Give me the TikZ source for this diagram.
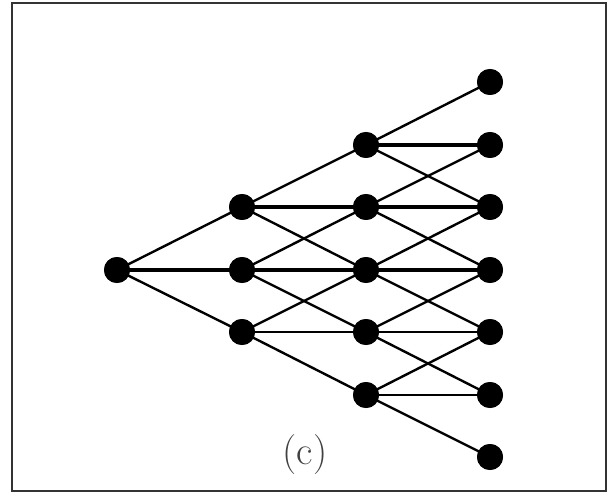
\documentclass[tikz,border=0pt]{standalone}
\begin{document}
\begin{tikzpicture}[x=1pt,y=-1pt,
  dot/.style={circle,fill=black,inner sep=0pt,minimum size=26pt},
  edge/.style={line width=2.4pt},
  hedge/.style={line width=3.6pt}]
\useasboundingbox (0,0) rectangle (613,497);
\draw[line width=2pt,black!80] (12,3) rectangle (606,491);
% nodes
\node[dot] (a0) at (117,270) {};
\node[dot] (b1) at (242,207) {};
\node[dot] (b0) at (242,270) {};
\node[dot] (bm1) at (242,332) {};
\node[dot] (c2) at (366,145) {};
\node[dot] (c1) at (366,207) {};
\node[dot] (c0) at (366,270) {};
\node[dot] (cm1) at (366,332) {};
\node[dot] (cm2) at (366,395) {};
\node[dot] (d3) at (490,82) {};
\node[dot] (d2) at (490,145) {};
\node[dot] (d1) at (490,207) {};
\node[dot] (d0) at (490,270) {};
\node[dot] (dm1) at (490,332) {};
\node[dot] (dm2) at (490,395) {};
\node[dot] (dm3) at (490,457) {};
% edges
\draw[edge] (a0.center) -- (b1.center);
\draw[hedge] (a0.center) -- (b0.center);
\draw[edge] (a0.center) -- (bm1.center);
\draw[edge] (b1.center) -- (c2.center);
\draw[hedge] (b1.center) -- (c1.center);
\draw[edge] (b1.center) -- (c0.center);
\draw[edge] (b0.center) -- (c1.center);
\draw[hedge] (b0.center) -- (c0.center);
\draw[edge] (b0.center) -- (cm1.center);
\draw[edge] (bm1.center) -- (c0.center);
\draw[edge] (bm1.center) -- (cm1.center);
\draw[edge] (bm1.center) -- (cm2.center);
\draw[edge] (c2.center) -- (d3.center);
\draw[hedge] (c2.center) -- (d2.center);
\draw[edge] (c2.center) -- (d1.center);
\draw[edge] (c1.center) -- (d2.center);
\draw[hedge] (c1.center) -- (d1.center);
\draw[edge] (c1.center) -- (d0.center);
\draw[edge] (c0.center) -- (d1.center);
\draw[hedge] (c0.center) -- (d0.center);
\draw[edge] (c0.center) -- (dm1.center);
\draw[edge] (cm1.center) -- (d0.center);
\draw[edge] (cm1.center) -- (dm1.center);
\draw[edge] (cm1.center) -- (dm2.center);
\draw[edge] (cm2.center) -- (dm1.center);
\draw[line width=2pt] (cm2.center) -- (dm2.center);
\draw[edge] (cm2.center) -- (dm3.center);
% redraw dots on top
\foreach \n in {a0,b1,b0,bm1,c2,c1,c0,cm1,cm2,d3,d2,d1,d0,dm1,dm2,dm3}
  \fill (\n) circle (13pt);
\node[text=black!75,font=\fontsize{40}{48}\selectfont] (lab) at (305,455) {(c)};
\end{tikzpicture}
\end{document}
